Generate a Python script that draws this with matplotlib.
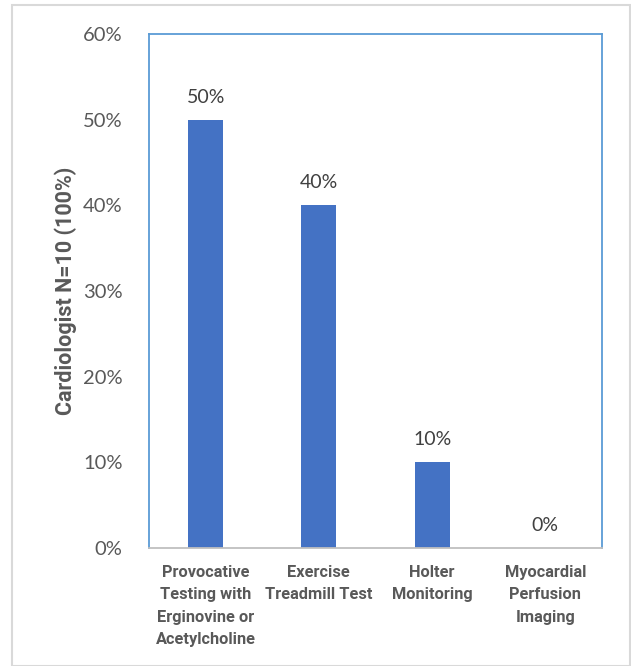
import numpy as np
import matplotlib.pyplot as plt
import matplotlib.patches as patches
import matplotlib.ticker as ticker

categories = ["Provocative\nTesting with\nErginovine or\nAcetylcholine",
              "Exercise\nTreadmill Test",
              "Holter\nMonitoring",
              "Myocardial\nPerfusion\nImaging"]
values = [0.50, 0.40, 0.10, 0.0]
value_labels = ["50%", "40%", "10%", "0%"]

plt.rcParams['font.family'] = ['Lato', 'DejaVu Sans']
bold_font = ['Roboto', 'DejaVu Sans']
gray = '#595959'

fig = plt.figure(figsize=(6.31, 6.66), dpi=100)
# outer light border of the chart area
fig.patches.append(patches.Rectangle((12/631, 0), (630-12)/631, 1-5/666,
                                     transform=fig.transFigure, fill=False,
                                     edgecolor='#D9D9D9', linewidth=1.5))

ax = fig.add_axes([149/631, 1-548/666, (602-149)/631, (548-34)/666])
x = np.arange(len(categories))
ax.bar(x, values, width=0.31, color='#4472C4')
for xi, v, lab in zip(x, values, value_labels):
    ax.annotate(lab, (xi, v), xytext=(0, 10), textcoords='offset points',
                ha='center', va='bottom', fontsize=14, color='#404040')

ax.set_xlim(-0.5, 3.5)
ax.set_ylim(0, 0.6)
ax.yaxis.set_major_locator(ticker.MultipleLocator(0.1))
ax.yaxis.set_major_formatter(ticker.PercentFormatter(1.0, decimals=0))
ax.set_xticks(x)
ax.set_xticklabels(categories, fontsize=11.8, fontweight='bold', color=gray,
                   family=bold_font, linespacing=1.62, va='top')
ax.tick_params(axis='y', labelsize=14.5, colors=gray, length=0, pad=19)
ax.tick_params(axis='x', length=0, pad=12)
for s in ax.spines.values():
    s.set_color('#5B9BD5')
    s.set_linewidth(1.3)
ax.spines['bottom'].set_color('#BFBFBF')
ax.set_ylabel("Cardiologist N=10 (100%)", fontsize=15.5, fontweight='bold',
              family=bold_font, color=gray, labelpad=4)

plt.savefig('out.png', dpi=100)
